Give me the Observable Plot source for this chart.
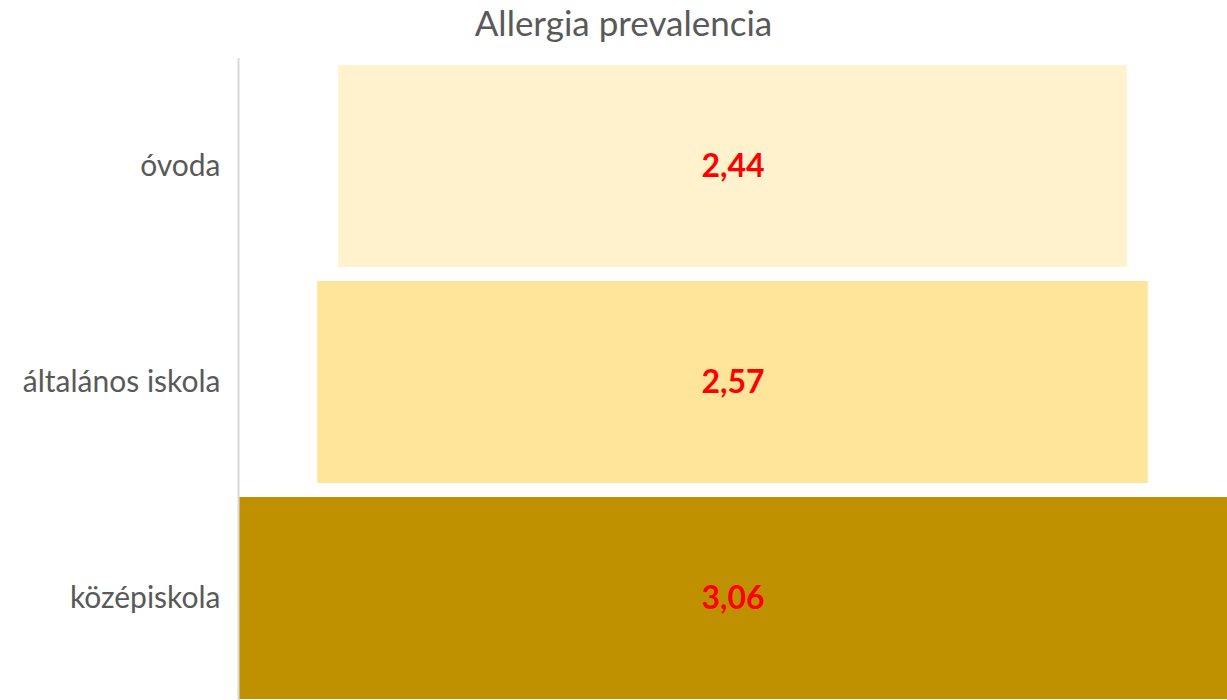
<!DOCTYPE html>
<html>
<head>
<meta charset="utf-8">
<script src="https://cdn.jsdelivr.net/npm/d3@7"></script>
<script src="https://cdn.jsdelivr.net/npm/@observablehq/plot@0.6"></script>
<style>
  html, body { margin: 0; padding: 0; overflow: hidden; background: #fff; }
  #title { height: 56px; box-sizing: border-box; padding-top: 1px; padding-left: 20px; text-align: center;
           font-family: Lato, "Open Sans", sans-serif; font-size: 35px; color: #595959; line-height: 42px; }
  svg { display: block; }
</style>
</head>
<body>
<div id="title">Allergia prevalencia</div>
<div id="chart"></div>
<script>
const categories = ["óvoda", "általános iskola", "középiskola"];
const values = [2.44, 2.57, 3.06];
const labels = ["2,44", "2,57", "3,06"];
const colors = ["#FFF2CC", "#FFE599", "#BF9000"];

const data = categories.map((c, i) => ({cat: c, v: values[i], label: labels[i], color: colors[i]}));
const vmax = d3.max(values);

const chart = Plot.plot({
  width: 1227,
  height: 651,
  marginTop: 2,
  marginBottom: 0,
  marginLeft: 238,
  marginRight: 0,
  style: {fontFamily: "Lato, 'Open Sans', sans-serif", background: "#fff"},
  x: {type: "linear", domain: [-vmax, vmax], axis: null},
  y: {domain: categories, paddingInner: 0.0645, paddingOuter: 0.028, label: null},
  marks: [
    Plot.barX(data, {x1: d => -d.v, x2: d => d.v, y: "cat", fill: d => d.color}),
    Plot.ruleX([-vmax], {stroke: "#D9D9D9", strokeWidth: 2}),
    Plot.axisY({tickSize: 0, tickPadding: 18, fontSize: 30, fill: "#595959", label: null}),
    Plot.text(data, {y: "cat", text: "label", fill: "#FF0000", fontWeight: "bold", fontSize: 32})
  ]
});
document.getElementById("chart").appendChild(chart);
</script>
</body>
</html>
